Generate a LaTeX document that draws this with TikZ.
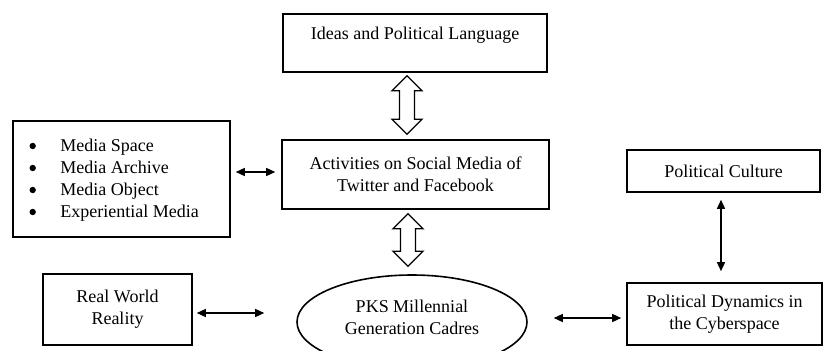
\documentclass[tikz,border=0pt]{standalone}
\usepackage{fontspec}
\setmainfont{Liberation Serif}
\usetikzlibrary{arrows.meta,shapes.geometric,calc}
\newcommand\fatarrow[2]{%
  \draw[fat] (#1) -- ++(15,15) -- ++(-7.5,0) -- ($(#2)+(7.5,-15)$) -- ++(7.5,0) -- (#2)
    -- ++(-15,-15) -- ++(7.5,0) -- ($(#1)+(-7.5,15)$) -- ++(-7.5,0) -- cycle;}
\begin{document}
\begin{tikzpicture}[x=1pt,y=-1pt,
  box/.style={draw, line width=1.6pt, rectangle, align=center, inner sep=0pt,
    font=\fontsize{18}{22}\selectfont},
  txt/.style={align=center, inner sep=0pt, font=\fontsize{18}{22}\selectfont},
  bul/.style={fill=black},
  dar/.style={line width=1.4pt, {Triangle[length=9pt,width=8pt]}-{Triangle[length=9pt,width=8pt]}},
  fat/.style={draw, line width=1.3pt, line join=miter, fill=white}]
\useasboundingbox (0,0) rectangle (823,351);
% boxes
\node[box, minimum width=264, minimum height=58] (ideas) at (415,43) {};
\node[txt] (ideast) at (415,35) {Ideas and Political Language};
\node[box, minimum width=267, minimum height=69] (act) at (415.5,174.5)
  {Activities on Social Media of\\Twitter and Facebook};
\node[box, minimum width=217, minimum height=116] (list) at (121.5,179) {};
\node[txt, align=left, anchor=west] (listt) at ($(list.west)+(48,1)$)
  {Media Space\\Media Archive\\Media Object\\Experiential Media};
\foreach \k/\dy in {1/-33, 2/-11, 3/11, 4/33}
  \fill[bul] ($(list.west)+(20.5,\dy)$) circle (3.2);
\node[box, minimum width=193, minimum height=42] (pc) at (723.5,171) {Political Culture};
\node[box, minimum width=195, minimum height=62] (pd) at (724.5,314)
  {Political Dynamics in\\the Cyberspace};
\node[box, minimum width=149, minimum height=71] (rw) at (117.5,309.5) {Real World\\Reality};
\node[draw, ellipse, line width=1.6pt, minimum width=230, minimum height=94] (ell)
  at (412,322) {};
\node[txt] (ellt) at (412,317) {PKS Millennial\\Generation Cadres};
% thin double arrows
\draw[dar] ($(list.east)+(5,-7)$) -- ($(act.west)+(-6,-2.5)$);
\draw[dar] ($(rw.east)+(4,3.5)$) -- ($(ell.west)+(-32,-9)$);
\draw[dar] ($(ell.east)+(26,-4)$) -- ($(pd.west)+(-5,4)$);
\draw[dar] ($(pc.south)+(-2.5,7)$) -- ($(pd.north)+(-3.5,-11)$);
% fat double arrows
\coordinate (f1t) at ($(ideas.south)+(-8,3)$);
\coordinate (f1b) at ($(act.north)+(-8.5,-5)$);
\coordinate (f2t) at ($(act.south)+(-7.5,4)$);
\coordinate (f2b) at ($(ell.north)+(-4,-8)$);
\fatarrow{f1t}{f1b}
\fatarrow{f2t}{f2b}
\end{tikzpicture}
\end{document}
